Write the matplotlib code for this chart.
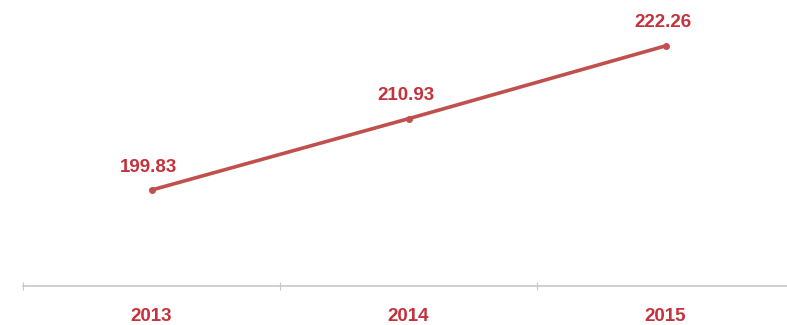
import matplotlib.pyplot as plt

# data
years = ['2013', '2014', '2015']
values = [199.83, 210.93, 222.26]

red = '#c0504d'
text_red = '#c4323c'

fig = plt.figure(figsize=(7.87, 3.25), dpi=100)
ax = fig.add_axes([23 / 787, 39 / 325, 771 / 787, 286 / 325])

x = list(range(len(years)))
ax.plot(x, values, color=red, linewidth=2.6, marker='o', markersize=4)

for xi, v in zip(x, values):
    ax.annotate(f'{v:.2f}', (xi, v), xytext=(-2, 16.5), textcoords='offset points',
                ha='center', va='center', color=text_red, fontsize=13.5,
                fontweight='bold', family='Liberation Sans')

ax.set_xlim(-0.5, 2.5)
ax.set_ylim(184.9, 229.4)

# boundary ticks without labels, year labels on minor ticks
ax.set_xticks([-0.5, 0.5, 1.5, 2.5])
ax.set_xticklabels([])
ax.set_xticks(x, minor=True)
ax.set_xticklabels(years, minor=True)
ax.tick_params(axis='x', which='major', direction='inout', length=6, color='#c8c8c8')
ax.tick_params(axis='x', which='minor', length=0, pad=16, labelcolor=text_red,
               labelsize=13.5)
for lbl in ax.get_xticklabels(minor=True):
    lbl.set_fontweight('bold')
    lbl.set_family('Liberation Sans')

ax.set_yticks([])
for s in ['top', 'right', 'left']:
    ax.spines[s].set_visible(False)
ax.spines['bottom'].set_color('#c8c8c8')
ax.spines['bottom'].set_linewidth(1.2)

fig.savefig('out.png', dpi=100)
